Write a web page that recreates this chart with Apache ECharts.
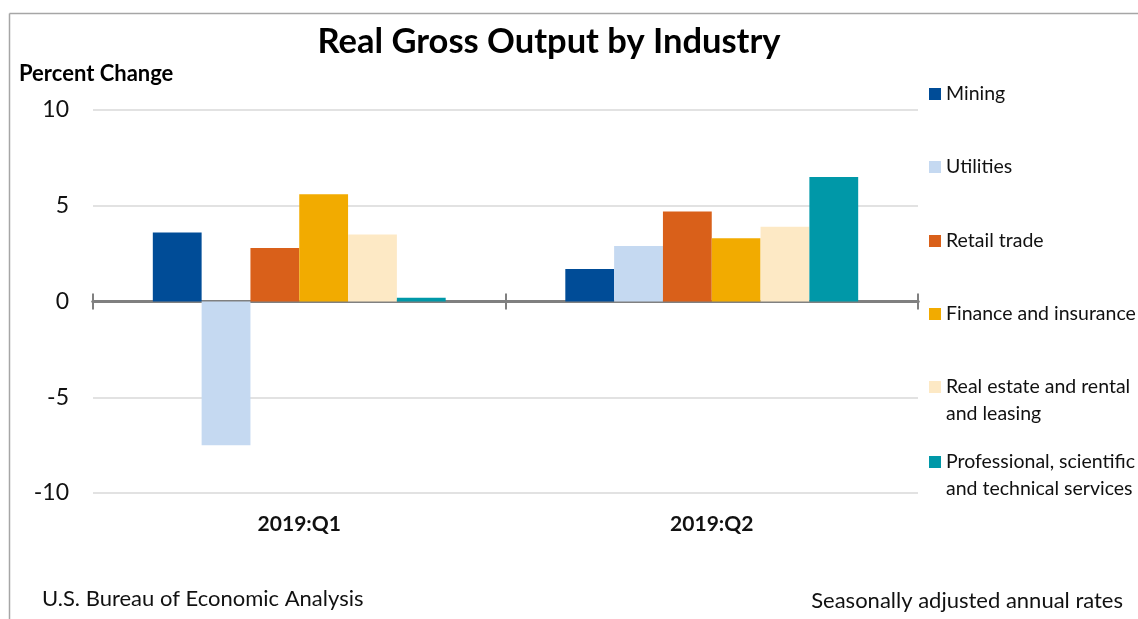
<!DOCTYPE html>
<html><head><meta charset="utf-8">
<script src="https://cdn.jsdelivr.net/npm/echarts@6/dist/echarts.min.js"></script>
<style>html,body{margin:0;padding:0;background:#fff}#c{width:1138px;height:619px}</style>
</head><body><div id="c"></div>
<script>
const categories = ['2019:Q1', '2019:Q2'];
const mining = [3.6, 1.7];
const utilities = [-7.5, 2.9];
const retailTrade = [2.8, 4.7];
const financeInsurance = [5.6, 3.3];
const realEstate = [3.5, 3.9];
const professional = [0.2, 6.5];
const seriesNames = ['Mining', 'Utilities', 'Retail trade', 'Finance and insurance',
  'Real estate and rental\nand leasing', 'Professional, scientific\nand technical services'];
const seriesData = [mining, utilities, retailTrade, financeInsurance, realEstate, professional];
const colors = ['#004C97', '#C5D9F1', '#D9601A', '#F2AB00', '#FDE9C5', '#0098A8'];
const yTicks = { min: -10, max: 10, interval: 5 };

const FONT = 'Lato';
const chart = echarts.init(document.getElementById('c'));
const legendCenters = [94, 167, 241, 314, 387, 462];
const LH = 27;
const legends = seriesNames.map((n, i) => {
  const multi = n.indexOf('\n') >= 0;
  return {
    data: [n], left: 929, top: multi ? legendCenters[i] - 1.5 * LH : legendCenters[i] - LH / 2,
    orient: 'vertical', itemWidth: 12, itemHeight: 12, itemGap: 5, icon: 'rect',
    padding: 0, selectedMode: false,
    formatter: multi ? (name => ' \n' + name) : undefined,
    textStyle: { fontFamily: FONT, fontSize: 19.5, color: '#111', lineHeight: LH }
  };
});
chart.setOption({
  animation: false,
  color: colors,
  textStyle: { fontFamily: FONT },
  title: [
    { text: 'Real Gross Output by Industry', left: 549, top: 24, textAlign: 'center', padding: 0,
      textStyle: { fontFamily: FONT, fontSize: 34.5, fontWeight: 'bold', color: '#000' } },
    { text: 'Percent Change', left: 19, top: 63, padding: 0,
      textStyle: { fontFamily: FONT, fontSize: 22, fontWeight: 'bold', color: '#000' } },
    { text: 'U.S. Bureau of Economic Analysis', left: 42, top: 588, padding: 0,
      textStyle: { fontFamily: FONT, fontSize: 22, fontWeight: 'normal', color: '#111' } },
    { text: 'Seasonally adjusted annual rates', right: 15, top: 590, padding: 0,
      textStyle: { fontFamily: FONT, fontSize: 22, fontWeight: 'normal', color: '#111' } }
  ],
  legend: legends,
  grid: { left: 93, right: 220, top: 110, bottom: 126 },
  xAxis: [
    { type: 'category', data: categories, position: 'bottom',
      axisLine: { show: false, onZero: false }, axisTick: { show: false },
      axisLabel: { margin: 21, fontFamily: FONT, fontSize: 21, fontWeight: 'bold', color: '#111' } },
    { type: 'category', data: categories, position: 'bottom',
      axisLine: { show: true, onZero: true, onZeroAxisIndex: 0, lineStyle: { color: '#808080', width: 3 } },
      axisTick: { show: true, inside: false, length: 8, lineStyle: { color: '#808080', width: 2 } },
      axisLabel: { show: false }, splitLine: { show: false } },
    { type: 'category', data: categories, position: 'bottom',
      axisLine: { show: true, onZero: true, onZeroAxisIndex: 1, lineStyle: { color: '#808080', width: 3 } },
      axisTick: { show: true, inside: true, length: 8, lineStyle: { color: '#808080', width: 2 } },
      axisLabel: { show: false }, splitLine: { show: false } }
  ],
  yAxis: [
    { type: 'value', min: yTicks.min, max: yTicks.max, interval: yTicks.interval,
      axisLine: { show: false }, axisTick: { show: false },
      axisLabel: { margin: 24, fontFamily: FONT, fontSize: 23, color: '#111' },
      splitLine: { show: true, lineStyle: { color: '#d9d9d9', width: 1.5 } } },
    { type: 'value', min: yTicks.min, max: yTicks.max, interval: yTicks.interval, show: false,
      splitLine: { show: false } }
  ],
  series: seriesNames.map((n, i) => ({
    name: n, type: 'bar', xAxisIndex: 0, yAxisIndex: 0, data: seriesData[i],
    barGap: '0%', barCategoryGap: '29%', z: 1,
    itemStyle: { color: colors[i] }
  })),
  graphic: [
    { type: 'line', shape: { x1: 9.5, y1: 13.5, x2: 1138, y2: 13.5 }, style: { stroke: '#a6a6a6', lineWidth: 1.5 } },
    { type: 'line', shape: { x1: 9.5, y1: 13.5, x2: 9.5, y2: 619 }, style: { stroke: '#a6a6a6', lineWidth: 1.5 } }
  ]
});
</script></body></html>
